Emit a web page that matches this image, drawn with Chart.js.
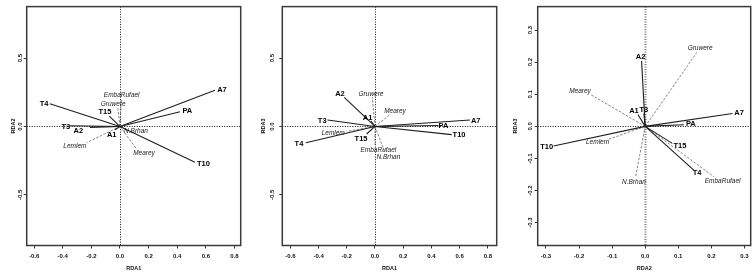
<!DOCTYPE html>
<html><head><meta charset="utf-8">
<script src="https://cdn.jsdelivr.net/npm/chart.js@4.4.1/dist/chart.umd.min.js"></script>
<style>
html,body{margin:0;padding:0;background:#fff;}
#wrap{position:relative;width:753px;height:273px;overflow:hidden;background:#fff;}
canvas{position:absolute;top:0;}
</style></head><body>
<div id="wrap">
<canvas id="c1" style="left:0px;width:250px;height:273px" width="250" height="273"></canvas>
<canvas id="c2" style="left:250px;width:250px;height:273px" width="250" height="273"></canvas>
<canvas id="c3" style="left:500px;width:253px;height:273px" width="253" height="273"></canvas>
</div>
<script>
// ---- data ----
const categories = ["A1","A2","A7","PA","T3","T4","T10","T15","EmbaRufael","Gruwere","Lemlem","Mearey","N.Brhan"];
const isSpecies  = [false,false,false,false,false,false,false,false,true,true,true,true,true];

// Panel 1: RDA1 (x) vs RDA2 (y)
const p1EndX = [-0.035,-0.210, 0.664, 0.420,-0.350,-0.490, 0.524,-0.075, 0.010,-0.015,-0.233, 0.117, 0.040];
const p1EndY = [-0.024,-0.007, 0.265, 0.107, 0.005, 0.166,-0.261, 0.075, 0.200, 0.140,-0.119,-0.166,-0.020];
const p1LabX = [-0.058,-0.291, 0.713, 0.471,-0.378,-0.531, 0.583,-0.105, 0.012,-0.047,-0.315, 0.168, 0.112];
const p1LabY = [-0.064,-0.036, 0.265, 0.111, 0.000, 0.166,-0.277, 0.106, 0.231, 0.166,-0.143,-0.197,-0.036];

// Panel 2: RDA1 (x) vs RDA3 (y)
const p2EndX = [-0.028,-0.218, 0.674, 0.449,-0.336,-0.490, 0.544,-0.059, 0.000,-0.019,-0.200, 0.106, 0.071];
const p2EndY = [ 0.040, 0.213, 0.047, 0.007, 0.047,-0.119,-0.060,-0.055,-0.142, 0.213,-0.036, 0.087,-0.190];
const p2LabX = [-0.052,-0.248, 0.714, 0.485,-0.374,-0.539, 0.596,-0.099, 0.024,-0.028,-0.296, 0.142, 0.095];
const p2LabY = [ 0.064, 0.236, 0.043, 0.007, 0.043,-0.126,-0.064,-0.090,-0.174, 0.236,-0.048, 0.111,-0.225];

// Panel 3: RDA2 (x) vs RDA3 (y)
const p3EndX = [-0.022,-0.011, 0.264, 0.117,-0.004, 0.147,-0.277, 0.082, 0.208, 0.156,-0.115,-0.165,-0.029];
const p3EndY = [ 0.037, 0.204, 0.040, 0.005, 0.040,-0.136,-0.061,-0.053,-0.157, 0.230,-0.042, 0.099,-0.157];
const p3LabX = [-0.034,-0.014, 0.284, 0.138,-0.004, 0.157,-0.298, 0.105, 0.234, 0.166,-0.144,-0.197,-0.034];
const p3LabY = [ 0.047, 0.217, 0.043, 0.007, 0.052,-0.146,-0.064,-0.061,-0.172, 0.242,-0.048, 0.110,-0.174];

// tick labels
const ticksRDA1 = [-0.6,-0.4,-0.2,0.0,0.2,0.4,0.6,0.8];
const ticksY12  = [-0.5,0.0,0.5];
const ticksP3   = [-0.3,-0.2,-0.1,0.0,0.1,0.2,0.3];

const FONT = "'Liberation Sans', Arial, sans-serif";

const rdaPlugin = {
  id:'rda',
  beforeDatasetsDraw(chart, args, o){
    const {ctx, chartArea:a, scales:{x,y}} = chart;
    ctx.save();
    const px = Math.round(x.getPixelForValue(0))+0.5;
    const py = Math.round(y.getPixelForValue(0))+0.5;
    ctx.strokeStyle = o.vColor; ctx.lineWidth = o.vWidth; ctx.setLineDash([1,1.5]);
    ctx.beginPath(); ctx.moveTo(px,a.top); ctx.lineTo(px,a.bottom); ctx.stroke();
    ctx.strokeStyle='#111'; ctx.lineWidth=1;
    ctx.beginPath(); ctx.moveTo(a.left,py); ctx.lineTo(a.right,py); ctx.stroke();
    ctx.restore();
  },
  afterDraw(chart, args, o){
    const {ctx, chartArea:a, scales:{x,y}} = chart;
    ctx.save();
    // box
    ctx.strokeStyle='#3a3a3a'; ctx.lineWidth=1.5; ctx.setLineDash([]);
    ctx.strokeRect(a.left, a.top, a.right-a.left, a.bottom-a.top);
    // labels
    ctx.textAlign='center'; ctx.textBaseline='middle';
    categories.forEach((n,i)=>{
      ctx.font = isSpecies[i] ? "italic 6.5px "+FONT : "bold 7.5px "+FONT;
      ctx.fillStyle = isSpecies[i] ? '#1a1a1a' : '#000';
      ctx.fillText(n, x.getPixelForValue(o.labX[i]), y.getPixelForValue(o.labY[i]));
    });
    // y tick labels (rotated)
    ctx.font = "bold 6px "+FONT; ctx.fillStyle='#111';
    y.ticks.forEach(t=>{
      const yy = y.getPixelForValue(t.value);
      ctx.save(); ctx.translate(a.left - o.yLabOff, yy); ctx.rotate(-Math.PI/2);
      ctx.fillText(Number(t.value).toFixed(1), 0, 0); ctx.restore();
    });
    // y title
    ctx.font = "bold 5.5px "+FONT; ctx.fillStyle='#111';
    ctx.save(); ctx.translate(o.yTitleX, (a.top+a.bottom)/2); ctx.rotate(-Math.PI/2);
    ctx.fillText(o.yTitle, 0, 0); ctx.restore();
    ctx.restore();
  }
};

function makePanel(id, c){
  const datasets = categories.map((n,i)=>({
    label:n,
    data:[{x:0,y:0},{x:c.ex[i],y:c.ey[i]}],
    showLine:true, pointRadius:0, pointHoverRadius:0,
    borderColor: isSpecies[i] ? '#666666' : '#1e1e1e',
    borderWidth: isSpecies[i] ? 0.8 : 1.1,
    borderDash: isSpecies[i] ? [2.5,1.5] : []
  }));
  new Chart(document.getElementById(id), {
    type:'scatter',
    data:{datasets},
    options:{
      responsive:false, animation:false, events:[],
      layout:{padding:{left:0,right:c.padR,top:1,bottom:0}},
      plugins:{legend:{display:false}, tooltip:{enabled:false},
        rda:{labX:c.lx, labY:c.ly, yLabOff:c.yLabOff, yTitleX:c.yTitleX, yTitle:c.yTitle,
             vColor:c.vColor, vWidth:c.vWidth}},
      scales:{
        x:{type:'linear', position:'bottom', min:c.xmin, max:c.xmax,
          afterBuildTicks:s=>{ s.ticks = c.xt.map(v=>({value:v})); },
          afterFit:s=>{ s.height = 27.5; },
          grid:{drawOnChartArea:false, drawTicks:true, tickLength:3, color:'#333', lineWidth:1},
          border:{display:false},
          ticks:{padding:4, autoSkip:false, maxRotation:0, color:'#111',
            font:{family:FONT, size:6, weight:'bold'}, callback:v=>Number(v).toFixed(1)},
          title:{display:true, text:c.xTitle, color:'#111', padding:{top:0,bottom:1},
            font:{family:FONT, size:5.5, weight:'bold'}}
        },
        y:{type:'linear', position:'left', min:c.ymin, max:c.ymax,
          afterBuildTicks:s=>{ s.ticks = c.yt.map(v=>({value:v})); },
          afterFit:s=>{ s.width = c.left; },
          grid:{drawOnChartArea:false, drawTicks:true, tickLength:3, color:'#333', lineWidth:1},
          border:{display:false},
          ticks:{color:'rgba(0,0,0,0)', font:{family:FONT,size:6}, callback:v=>Number(v).toFixed(1)},
          title:{display:false}
        }
      }
    },
    plugins:[rdaPlugin]
  });
}

makePanel('c1', {ex:p1EndX, ey:p1EndY, lx:p1LabX, ly:p1LabY,
  xmin:-0.652, xmax:0.844, ymin:-0.870, ymax:0.876, xt:ticksRDA1, yt:ticksY12,
  left:26.7, padR:9.3, yLabOff:6, yTitleX:13.3, yTitle:'RDA2', xTitle:'RDA1', vColor:'#111', vWidth:1});
makePanel('c2', {ex:p2EndX, ey:p2EndY, lx:p2LabX, ly:p2LabY,
  xmin:-0.657, xmax:0.863, ymin:-0.870, ymax:0.876, xt:ticksRDA1, yt:ticksY12,
  left:32.3, padR:3.3, yLabOff:9.6, yTitleX:13.3, yTitle:'RDA3', xTitle:'RDA1', vColor:'#111', vWidth:1});
makePanel('c3', {ex:p3EndX, ey:p3EndY, lx:p3LabX, ly:p3LabY,
  xmin:-0.325, xmax:0.319, ymin:-0.371, ymax:0.373, xt:ticksP3, yt:ticksP3,
  left:37.7, padR:2.3, yLabOff:7, yTitleX:15, yTitle:'RDA3', xTitle:'RDA2', vColor:'#777', vWidth:2});
</script>
</body></html>
